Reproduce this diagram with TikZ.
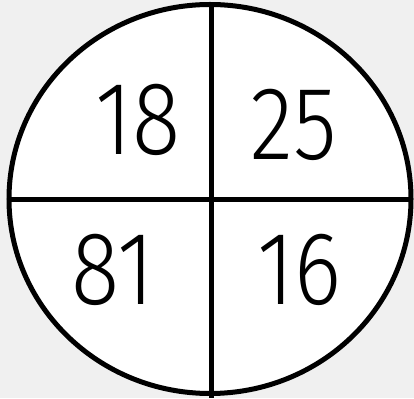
\documentclass[tikz,border=0pt]{standalone}
\usepackage{fontspec}
\newfontfamily\hand{Fira Sans}[UprightFont=* Light]
\definecolor{bg}{HTML}{F0F0F0}
\tikzset{
  rim/.style={draw=black, line width=5pt, fill=white},
  divider/.style={draw=black, line width=5pt},
  numlabel/.style={inner sep=0pt, anchor=base, xscale=0.86, transform shape,
    font=\hand\fontsize{104}{104}\selectfont}
}
\begin{document}
\begin{tikzpicture}[x=1pt,y=1pt]
  \fill[bg] (0,0) rectangle (414,398);
  \useasboundingbox (0,0) rectangle (414,398);
  \coordinate (c) at (210,199);
  \draw[rim] (c) ellipse [x radius=201, y radius=194.5];
  \coordinate (top) at (211,393);
  \coordinate (bot) at (211,0);
  \coordinate (left) at (9,198);
  \coordinate (right) at (411,198);
  \draw[divider] (top) -- (bot);
  \draw[divider] (left) -- (right);
  \node[numlabel] (n18) at (138,243) {18};
  \node[numlabel] (n25) at (294,238) {25};
  \node[numlabel] (n81) at (113,93) {81};
  \node[numlabel] (n16) at (299,93) {16};
\end{tikzpicture}
\end{document}
